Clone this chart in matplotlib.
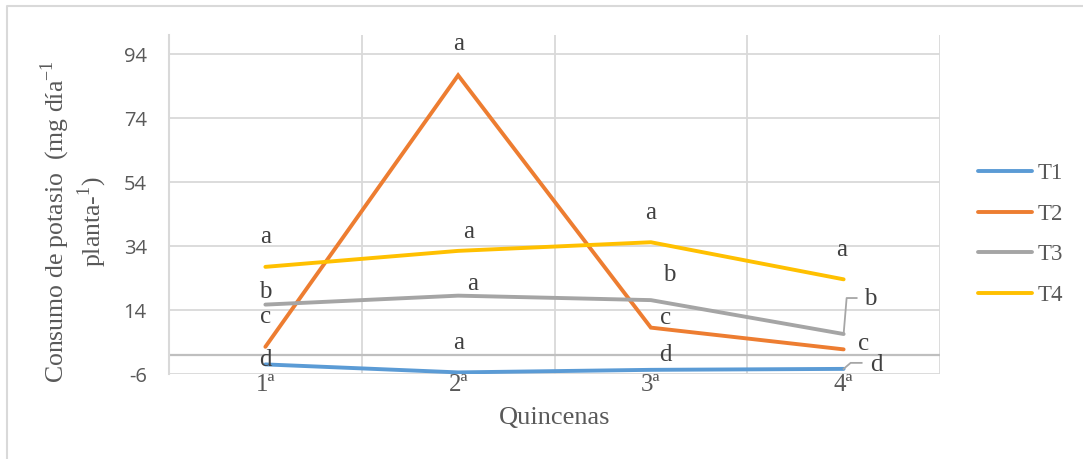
import matplotlib
matplotlib.use("Agg")
import matplotlib.pyplot as plt
from matplotlib.lines import Line2D
from matplotlib.transforms import IdentityTransform
import numpy as np

# data
quincenas = ["1ª", "2ª", "3ª", "4ª"]
t1 = [-3.0, -5.5, -4.7, -4.4]
t2 = [2.5, 87.4, 8.5, 1.7]
t3 = [15.7, 18.5, 17.1, 6.5]
t4 = [27.5, 32.5, 35.2, 23.6]

# significance letters per series
let_t1 = ["d", "a", "d", "d"]
let_t2 = ["c", "a", "c", "c"]
let_t3 = ["b", "a", "b", "b"]
let_t4 = ["a", "a", "a", "a"]

names = ["T1", "T2", "T3", "T4"]
colors = ["#5B9BD5", "#ED7D31", "#A5A5A5", "#FFC000"]
yticks = [-6, 14, 34, 54, 74, 94]

plt.rcParams["mathtext.fontset"] = "custom"
plt.rcParams["mathtext.rm"] = "Liberation Serif"
plt.rcParams["axes.unicode_minus"] = False

SERIF = "Liberation Serif"
TXT = "#404040"
GRID = "#d9d9d9"

W, H = 1083, 459
fig = plt.figure(figsize=(W / 100, H / 100), dpi=100)
ax = fig.add_axes([169 / W, 1 - 374 / H, (940 - 169) / W, (374 - 35) / H])

x = np.arange(len(quincenas))
series = [t1, t2, t3, t4]
for vals, name, col in zip(series, names, colors):
    ax.plot(x, vals, color=col, lw=2.8, label=name, solid_capstyle="round",
            solid_joinstyle="miter", zorder=3)

ax.set_xlim(-0.5, 3.5)
ax.set_ylim(-6, 100)
ax.set_yticks(yticks)
ax.set_xticks(x)
ax.set_xticklabels(quincenas, fontfamily=SERIF, fontsize=18, color="#595959")
ax.set_xticks(np.arange(-0.5, 4, 1), minor=True)
ax.tick_params(axis="x", which="both", length=0, pad=0)
ax.tick_params(axis="y", length=0, pad=16, labelsize=14.5, labelcolor="#595959")
for lab in ax.get_yticklabels():
    lab.set_fontfamily("Open Sans")

ax.grid(axis="y", which="major", color=GRID, lw=1.3)
ax.grid(axis="x", which="minor", color=GRID, lw=1.3)
for s in ["top", "right", "bottom"]:
    ax.spines[s].set_visible(False)
ax.spines["left"].set_color(GRID)
ax.spines["left"].set_linewidth(1.5)
ax.axhline(0, color="#bfbfbf", lw=1.6, zorder=2)

# letters (offsets in pixels from each point)
offs_t1 = [(0, 4), (0, 29), (15, 15), (33, 4)]
offs_t2 = [(0, 30), (0, 31), (15, 10), (20, 5)]
offs_t3 = [(0, 13), (15, 12), (18, 25), (27, 35)]
offs_t4 = [(0, 30), (10, 19), (0, 29), (-2, 29)]
for vals, lets, offs in zip(series, [let_t1, let_t2, let_t3, let_t4],
                            [offs_t1, offs_t2, offs_t3, offs_t4]):
    for xi, v, l, (dx, dy) in zip(x, vals, lets, offs):
        ax.annotate(l, (xi, v), xytext=(dx * 0.72, dy * 0.72),
                    textcoords="offset points", ha="center", va="center",
                    fontfamily=SERIF, fontsize=18, color=TXT, zorder=4)

# leader lines for the last labels
fig.canvas.draw()
for vals, path in [(t3, [(0, 0), (3, 36), (13, 36)]),
                   (t1, [(0, 0), (7, 6), (18, 6)])]:
    px, py = ax.transData.transform((3, vals[3]))
    xs = [px + p[0] for p in path]
    ys = [py + p[1] for p in path]
    fig.add_artist(Line2D(xs, ys, transform=IdentityTransform(),
                          color="#a6a6a6", lw=1.3))

fig.text(555 / W, 1 - 418 / H, "Quincenas", ha="center", va="center",
         fontfamily=SERIF, fontsize=19, color="#595959")
fig.text(74 / W, 1 - 222 / H,
         "Consumo de potasio  (mg día$^{\\mathregular{-1}}$\nplanta-$^{\\mathregular{1}}$)",
         rotation=90, ha="center", va="center", multialignment="center",
         fontfamily=SERIF, fontsize=18.5, color="#595959", linespacing=1.15)

fig.legend(loc="center left", bbox_to_anchor=(978 / W, 1 - 234.5 / H),
           frameon=False, borderpad=0, borderaxespad=0,
           prop={"family": SERIF, "size": 16.5}, labelcolor="#595959",
           handlelength=2.35, handletextpad=0.25, labelspacing=0.85)

# outer chart border
fig.add_artist(Line2D([7 / W, 7 / W, 1.0], [0, 1 - 6 / H, 1 - 6 / H],
                      transform=fig.transFigure, color=GRID, lw=1.5))

fig.savefig("out.png", dpi=100)
